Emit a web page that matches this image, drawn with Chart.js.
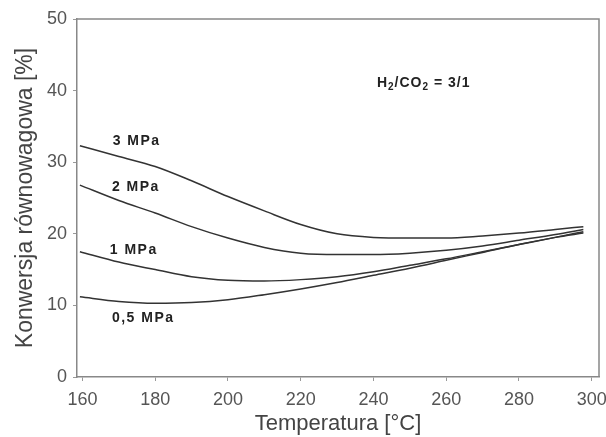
<!DOCTYPE html>
<html>
<head>
<meta charset="utf-8">
<script src="https://cdn.jsdelivr.net/npm/chart.js@4/dist/chart.umd.min.js"></script>
<style>
  html, body { margin: 0; padding: 0; background: #fff; }
  #wrap { width: 606px; height: 437px; }
</style>
</head>
<body>
<div id="wrap"><canvas id="chart"></canvas></div>
<script>
// temperatures [°C]
const temps = [159.3, 170, 180, 190, 200, 210, 220, 230, 240, 250, 260, 270, 280, 290, 297.7];
// equilibrium conversion [%] for each pressure
const p3 = [32.3, 30.8, 29.4, 27.4, 25.2, 23.2, 21.3, 20.0, 19.5, 19.4, 19.4, 19.7, 20.1, 20.6, 21.0];
const p2 = [26.8, 24.65, 22.9, 21.0, 19.4, 18.1, 17.3, 17.1, 17.1, 17.3, 17.7, 18.3, 19.1, 19.9, 20.6];
const p1 = [17.5, 16.05, 15.0, 14.0, 13.5, 13.4, 13.6, 14.0, 14.7, 15.6, 16.5, 17.5, 18.5, 19.5, 20.3];
const p05 = [11.2, 10.55, 10.3, 10.4, 10.8, 11.5, 12.3, 13.2, 14.2, 15.2, 16.3, 17.4, 18.5, 19.5, 20.1];
const xTicks = [160, 180, 200, 220, 240, 260, 280, 300];
const yTicks = [0, 10, 20, 30, 40, 50];

// curve labels (data coordinates)
const labels = [
    { text: '3 MPa', x: 174.9, y: 33.0 },
    { text: '2 MPa', x: 174.7, y: 26.5 },
    { text: '1 MPa', x: 174.1, y: 17.7 },
    { text: '0,5 MPa', x: 176.7, y: 8.2 }
];
// ratio note, parts: [text, subscript?]
const ratioNote = { parts: [['H', 0], ['2', 1], ['/CO', 0], ['2', 1], [' = 3/1', 0]], x: 253.8, y: 41.1 };

const pts = (ys) => temps.map((t, i) => ({ x: t, y: ys[i] }));

const lineStyle = {
    borderColor: '#333',
    borderWidth: 1.5,
    pointRadius: 0,
    tension: 0.4,
    cubicInterpolationMode: 'monotone',
    fill: false
};

const font = '"Liberation Sans", Arial, sans-serif';

const framePlugin = {
    id: 'frame',
    afterDraw(chart) {
        const { ctx, chartArea: a, scales } = chart;
        ctx.save();
        ctx.strokeStyle = '#888';
        ctx.lineWidth = 1.5;
        ctx.beginPath();
        ctx.moveTo(a.left, a.top);
        ctx.lineTo(a.right, a.top);
        ctx.lineTo(a.right, a.bottom);
        ctx.stroke();

        ctx.fillStyle = '#222';
        ctx.letterSpacing = '1.5px';
        ctx.textBaseline = 'middle';
        ctx.textAlign = 'center';
        ctx.font = 'bold 14px ' + font;
        labels.forEach(l => {
            ctx.fillText(l.text, scales.x.getPixelForValue(l.x), scales.y.getPixelForValue(l.y));
        });

        // ratio note with subscripts
        ctx.textAlign = 'left';
        ctx.letterSpacing = '1px';
        const mainFont = 'bold 14px ' + font;
        const subFont = 'bold 10px ' + font;
        let total = 0;
        ratioNote.parts.forEach(([t, sub]) => {
            ctx.font = sub ? subFont : mainFont;
            total += ctx.measureText(t).width;
        });
        let px = scales.x.getPixelForValue(ratioNote.x) - total / 2;
        const py = scales.y.getPixelForValue(ratioNote.y);
        ratioNote.parts.forEach(([t, sub]) => {
            ctx.font = sub ? subFont : mainFont;
            ctx.fillText(t, px, sub ? py + 5 : py);
            px += ctx.measureText(t).width;
        });
        ctx.restore();
    }
};

new Chart(document.getElementById('chart'), {
    type: 'line',
    data: {
        datasets: [
            { label: '3 MPa', data: pts(p3), ...lineStyle },
            { label: '2 MPa', data: pts(p2), ...lineStyle },
            { label: '1 MPa', data: pts(p1), ...lineStyle },
            { label: '0,5 MPa', data: pts(p05), ...lineStyle }
        ]
    },
    options: {
        responsive: true,
        maintainAspectRatio: false,
        animation: false,
        layout: { padding: { left: 0, top: 19, right: 7, bottom: 0 } },
        plugins: {
            legend: { display: false },
            tooltip: { enabled: false }
        },
        scales: {
            x: {
                type: 'linear',
                min: 158.5,
                max: 302,
                afterFit(scale) {
                    scale.height = 60;
                    scale.paddingLeft = 0;
                    scale.paddingRight = 0;
                },
                afterBuildTicks(scale) { scale.ticks = xTicks.map(v => ({ value: v })); },
                ticks: {
                    color: '#555',
                    font: { family: font, size: 18 },
                    padding: 8,
                    maxRotation: 0
                },
                grid: { drawOnChartArea: false, tickLength: 4, color: '#999' },
                border: { color: '#888', width: 1.5 },
                title: {
                    display: true,
                    text: 'Temperatura [°C]',
                    color: '#444',
                    font: { family: font, size: 22 },
                    padding: { top: 0, bottom: 0 }
                }
            },
            y: {
                min: 0,
                max: 50,
                afterFit(scale) { scale.width = 77; },
                afterBuildTicks(scale) { scale.ticks = yTicks.map(v => ({ value: v })); },
                ticks: {
                    color: '#555',
                    font: { family: font, size: 18 },
                    padding: 6
                },
                grid: { drawOnChartArea: false, tickLength: 4, color: '#999' },
                border: { color: '#888', width: 1.5 },
                title: {
                    display: true,
                    text: 'Konwersja równowagowa [%]',
                    color: '#444',
                    font: { family: font, size: 23 },
                    padding: { top: 12, bottom: 0 }
                }
            }
        }
    },
    plugins: [framePlugin]
});
</script>
</body>
</html>
